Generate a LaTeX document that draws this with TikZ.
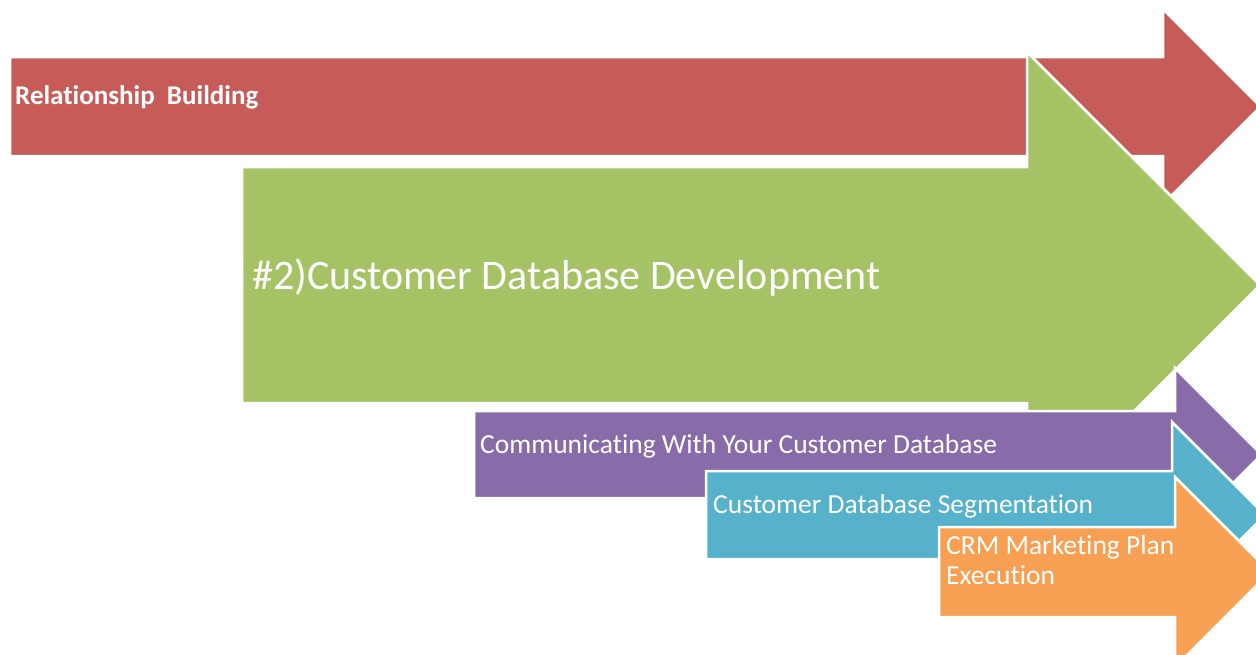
\documentclass[tikz,border=0pt]{standalone}
\usepackage{fontspec}
\setmainfont[Ligatures=NoCommon]{Carlito}
\usepackage{tikz}

\definecolor{relred}{HTML}{C75B58}
\definecolor{dbgreen}{HTML}{A5C264}
\definecolor{compurple}{HTML}{886CA9}
\definecolor{segteal}{HTML}{56B1CB}
\definecolor{crmorange}{HTML}{F79F53}

\begin{document}
\begin{tikzpicture}[x=1pt,y=-1pt]
                \useasboundingbox (0,0) rectangle (1256,654);
                \clip (0,0) rectangle (1256,654);

                \begin{scope}[every path/.style={draw=white, line width=2.5pt, line join=miter}]
                        \path[fill=relred] (10,57) -- (1163,57) -- (1163,9) -- (1260.5,106.5) -- (1163,204) -- (1163,156) -- (10,156) -- cycle;
                        \path[fill=dbgreen] (242,167) -- (1027,167) -- (1027,52) -- (1260,285) -- (1027,518) -- (1027,403) -- (242,403) -- cycle;
                        \path[fill=compurple] (474,411) -- (1175,411) -- (1175,368) -- (1261.5,454.5) -- (1175,541) -- (1175,498) -- (474,498) -- cycle;
                        \path[fill=segteal] (706,471) -- (1172,471) -- (1172,422) -- (1265,515) -- (1172,608) -- (1172,559) -- (706,559) -- cycle;
                        \path[fill=crmorange] (939,527) -- (1175,527) -- (1175,477) -- (1270,572) -- (1175,667) -- (1175,617) -- (939,617) -- cycle;
                \end{scope}

                \begin{scope}[every node/.style={text=white, anchor=base west, inner sep=0, align=left, font=\fontsize{27.5}{29.5}\selectfont}]
                        \node[font=\fontsize{27}{30}\selectfont\bfseries] (Rel) at (15,104) {Relationship\ \ Building};
                        \node[font=\fontsize{42}{46}\selectfont] (Cdb) at (252,289) {\#2)Customer Database Development};
                        \node (Com) at (480,453) {Communicating With Your Customer Database};
                        \node (Seg) at (713,513) {Customer Database Segmentation};
                        \node (Crm) at (946,584) {CRM Marketing Plan\\Execution};
                \end{scope}
        \end{tikzpicture}
\end{document}
